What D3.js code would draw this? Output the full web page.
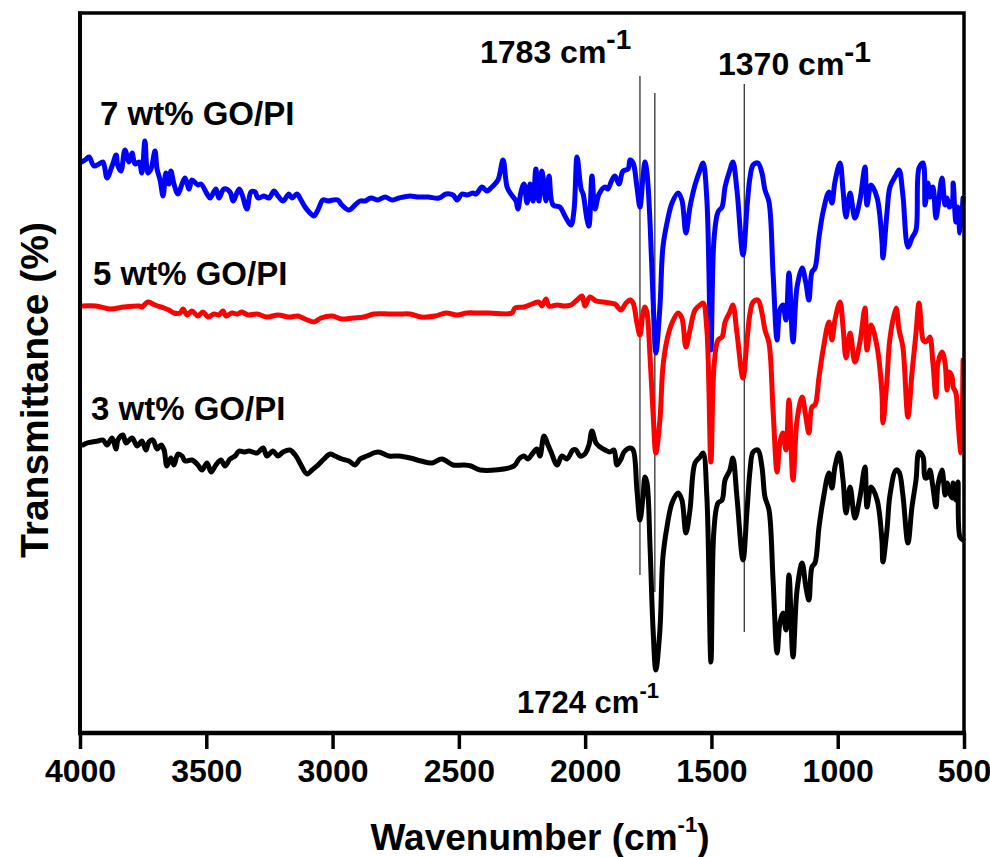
<!DOCTYPE html>
<html>
<head>
<meta charset="utf-8">
<script src="https://cdn.jsdelivr.net/npm/d3@7/dist/d3.min.js"></script>
<style>
  html, body { margin: 0; padding: 0; background: #fff; }
  svg { display: block; }
  text { font-family: "Liberation Sans", Arial, sans-serif; font-weight: bold; fill: #000; }
</style>
</head>
<body>
<svg id="chart" width="990" height="857"></svg>
<script>
// ---------------- DATA ----------------
const xTicks = [4000, 3500, 3000, 2500, 2000, 1500, 1000, 500];
const seriesNames = ["7 wt% GO/PI", "5 wt% GO/PI", "3 wt% GO/PI"];
const seriesColors = ["#0000ff", "#ff0000", "#000000"];

// 7 wt% GO/PI (blue)
const wn7 = [3994,3980,3964,3945,3925,3909,3893,3873,3857,3850,3838,3822,3806,3794,3782,3766,3755,3743,3731,3719,3703,3695,3683,3671,3660,3648,3640,3628,3612,3596,3584,3568,3557,3533,3521,3497,3485,3462,3450,3430,3406,3394,3370,3359,3339,3323,3307,3295,3271,3252,3232,3216,3196,3173,3161,3141,3125,3109,3093,3074,3058,3038,3018,2998,2979,2963,2935,2911,2891,2872,2848,2820,2792,2765,2737,2693,2666,2622,2579,2551,2523,2507,2488,2468,2444,2432,2408,2389,2369,2345,2325,2309,2294,2274,2266,2254,2242,2230,2218,2206,2195,2183,2171,2155,2143,2127,2100,2080,2056,2044,2032,2016,2008,1993,1985,1973,1961,1945,1921,1910,1894,1882,1866,1850,1830,
  1822,1810,1795,1783,1771,1763,1755,1743,1731,1720,1704,1692,1676,1656,1632,1617,1601,1585,1565,1545,1533,1518,1502,1490,1474,1458,1446,1427,1415,1399,1375,1359,1347,1335,1316,1300,1288,1272,1256,1240,1229,1217,1205,1193,1177,1161,1141,1126,1114,1102,1090,1074,1058,1035,1023,1011,991,979,967,951,932,912,892,884,868,844,825,821,805,793,769,757,742,722,706,690,678,662,654,643,635,623,611,603,587,575,567,559,547,543,532,524,516,504];
const t7 = [57.1,57.3,57.6,56.7,56.9,57.1,55.5,56.7,57.8,56.7,56.2,58.3,57.1,58.0,56.9,57.1,56.0,59.2,56.0,56.4,58.2,56.4,55.3,53.7,56.0,54.9,56.2,54.9,53.9,54.9,55.5,54.4,55.3,54.8,54.9,53.9,53.5,54.4,53.5,54.4,54.1,53.2,54.4,53.9,52.4,54.1,54.1,53.5,53.7,53.5,54.2,53.7,53.2,53.9,53.5,53.9,53.3,52.6,52.1,51.7,52.3,53.3,53.2,53.3,53.3,52.8,52.3,52.8,53.2,53.2,53.5,53.3,53.6,53.3,53.5,53.7,53.6,53.6,53.5,53.9,53.8,53.3,53.9,53.8,54.0,53.9,54.6,54.2,54.6,55.3,57.3,54.6,53.9,53.2,52.4,54.1,54.9,53.0,54.9,53.2,56.4,53.2,56.2,53.2,55.7,52.8,52.6,51.7,50.8,52.3,57.6,54.4,53.9,51.4,50.7,55.7,52.4,53.9,54.6,54.4,55.3,55.7,54.9,56.2,56.4,
  57.3,57.0,54.6,52.6,55.6,57.1,56.0,51.0,43.3,38.0,42.6,48.6,51.0,53.0,54.0,53.3,50.0,52.6,54.8,56.3,57.0,53.3,38.3,49.3,52.1,52.6,54.6,56.3,57.1,54.3,47.8,52.6,55.6,56.8,57.0,56.0,54.3,53.1,46.0,39.3,42.3,42.8,41.3,46.0,39.1,44.6,46.5,45.0,43.3,46.1,46.5,49.6,52.1,54.1,53.0,55.1,57.0,54.3,51.6,54.0,51.5,53.3,56.6,52.8,54.8,53.5,49.3,47.5,52.0,54.6,55.8,56.3,53.8,48.6,49.5,50.3,56.5,57.0,52.8,55.0,53.6,54.6,51.5,52.6,55.5,52.8,53.5,52.6,53.0,55.0,51.1,52.6,50.0,53.5];

// 5 wt% GO/PI (red)
const wn5 = [3994,3937,3881,3826,3766,3755,3731,3703,3667,3648,3628,3604,3592,3576,3557,3533,3513,3493,3469,3450,3434,3422,3398,3378,3359,3335,3299,3260,3216,3173,3137,3109,3074,3046,3002,2963,2919,2876,2836,2777,2737,2693,2650,2594,2551,2507,2468,2424,2381,2290,2278,2242,2210,2183,2171,2155,2143,2111,2084,2056,2032,2012,2001,1981,1957,1929,1902,1882,1858,1838,
  1822,1810,1795,1783,1771,1763,1755,1743,1731,1720,1704,1692,1676,1656,1632,1617,1601,1585,1565,1545,1533,1518,1502,1490,1474,1458,1446,1427,1415,1399,1375,1359,1347,1335,1316,1300,1288,1272,1256,1240,1229,1217,1205,1193,1177,1161,1141,1126,1114,1102,1090,1074,1058,1035,1023,1011,991,979,967,951,932,912,892,884,868,844,825,821,805,793,769,757,742,722,706,690,678,662,654,643,635,623,611,603,587,575,567,559,547,543,532,524,512,504];
const t5 = [42.7,42.7,42.4,42.6,42.7,42.6,43.1,42.8,42.5,42.3,42.0,42.0,42.4,41.8,42.2,41.7,42.1,41.6,41.9,41.8,42.2,41.7,42.0,41.9,42.1,41.8,41.9,41.6,41.8,41.6,41.7,41.4,41.1,41.5,41.7,41.4,41.5,41.6,41.9,41.9,41.9,41.9,41.6,41.7,42.0,41.8,42.0,42.0,42.0,42.0,42.5,42.6,42.9,43.1,42.7,43.4,42.7,42.8,42.7,42.8,43.3,43.7,42.7,43.6,43.2,43.1,43.0,42.9,42.3,43.0,
  43.3,43.0,41.0,39.8,42.0,42.6,42.0,37.6,32.0,28.0,31.3,36.6,39.3,41.0,42.0,41.5,38.6,40.3,42.3,42.8,43.0,40.3,27.1,36.6,39.3,39.6,41.1,42.1,42.8,40.0,35.5,39.3,42.0,43.1,43.3,42.0,40.3,39.0,32.3,26.1,29.0,30.0,28.3,33.3,25.3,31.3,33.6,31.6,30.0,32.6,32.8,35.6,38.3,41.1,39.3,41.3,43.1,40.6,37.5,40.0,37.1,39.1,42.5,38.3,40.8,38.6,34.0,31.0,35.3,39.5,42.5,40.3,38.6,31.6,36.0,40.0,43.0,39.3,39.1,39.3,39.6,37.0,33.6,37.0,38.1,37.0,34.3,36.1,35.6,34.6,34.0,31.3,28.0,37.3];

// 3 wt% GO/PI (black)
const wn3 = [3988,3972,3952,3929,3909,3893,3873,3857,3850,3830,3818,3794,3774,3755,3739,3727,3711,3695,3679,3667,3656,3640,3628,3612,3596,3584,3557,3533,3517,3497,3481,3462,3442,3426,3406,3386,3370,3351,3331,3299,3275,3260,3236,3216,3196,3169,3145,3125,3101,3081,3062,3034,3010,2990,2963,2935,2911,2891,2864,2820,2777,2737,2693,2650,2606,2567,2523,2480,2452,2416,2282,2262,2242,2226,2210,2191,2179,2163,2147,2135,2111,2092,2072,2048,2036,2020,2001,1985,1973,1957,1941,1921,1902,1886,1874,1858,1846,
  1822,1810,1795,1783,1771,1763,1755,1743,1731,1720,1704,1692,1676,1656,1632,1617,1601,1585,1565,1545,1533,1518,1502,1490,1474,1458,1446,1427,1415,1399,1375,1359,1347,1335,1316,1300,1288,1272,1256,1240,1229,1217,1205,1193,1177,1161,1141,1126,1114,1102,1090,1074,1058,1035,1023,1011,995,979,967,951,932,912,892,884,868,844,825,821,805,793,769,757,742,722,706,690,678,662,654,643,635,623,611,603,587,575,567,559,547,543,532,524,516,504];
const t3 = [28.8,29.0,29.1,29.2,29.3,28.8,29.5,28.4,29.3,29.8,29.0,29.5,28.7,29.2,28.3,29.1,29.3,28.4,28.8,28.3,26.7,27.5,26.8,27.9,27.7,27.2,27.3,26.8,26.3,27.0,26.1,26.8,27.3,26.7,27.4,27.7,28.2,28.1,28.2,28.0,28.5,27.7,28.2,27.7,28.1,28.3,27.7,26.8,25.9,26.3,26.7,27.4,27.9,27.7,27.4,27.2,26.8,27.4,27.7,28.1,27.7,27.7,27.5,27.2,27.0,27.4,26.8,26.8,26.7,26.3,26.7,27.4,27.7,27.4,27.9,28.4,27.7,29.7,28.8,28.1,26.8,27.7,27.4,28.3,28.3,27.7,27.9,28.8,30.2,29.0,28.6,28.3,28.1,28.3,26.8,27.4,28.1,
  28.5,28.3,24.3,21.3,23.6,25.6,25.0,18.6,10.3,6.3,10.3,17.6,20.6,23.0,24.0,23.3,20.0,22.3,27.0,27.6,28.0,23.6,7.1,20.3,23.0,23.3,25.3,26.3,27.5,23.6,17.3,22.3,26.3,28.1,28.3,26.6,23.6,22.3,15.3,8.0,11.0,12.0,10.3,15.8,7.6,14.3,17.0,14.6,13.3,16.6,17.0,20.6,23.3,26.0,24.5,26.6,28.0,25.3,22.0,24.6,21.5,23.6,26.6,22.6,24.6,23.3,19.3,17.1,20.3,23.8,26.3,26.1,23.8,19.0,22.6,25.3,28.1,27.6,25.5,25.6,26.3,24.6,22.6,24.8,26.3,23.8,25.0,24.1,23.5,25.0,23.3,25.1,19.6,19.3];

// marker lines: wavenumber and vertical extent (a.u.)
const markWn = [1783, 1724, 1370];
const markTop = [65.7, 64.0, 64.9];
const markBottom = [15.8, 14.1, 10.1];

// ---------------- CHART ----------------
const svg = d3.select("#chart");
const pL = 80, pR = 964, pT = 13, pB = 733;

const x = d3.scaleLinear().domain([4000, 500]).range([pL, pR]);
const y = d3.scaleLinear().domain([0, 72]).range([pB, pT]);

const series = [
  { name: seriesNames[0], color: seriesColors[0], wn: wn7, t: t7 },
  { name: seriesNames[1], color: seriesColors[1], wn: wn5, t: t5 },
  { name: seriesNames[2], color: seriesColors[2], wn: wn3, t: t3 }
];

// marker lines
markWn.forEach((w, i) => {
  svg.append("line")
    .attr("x1", x(w)).attr("x2", x(w))
    .attr("y1", y(markTop[i])).attr("y2", y(markBottom[i]))
    .attr("stroke", "#222").attr("stroke-width", 1.2);
});

const line = d3.line()
  .x((d) => x(d[0]))
  .y((d) => y(d[1]))
  .curve(d3.curveCatmullRom.alpha(0.5));

series.forEach((s) => {
  const pts = s.wn.map((w, i) => [w, s.t[i]]);
  svg.append("path")
    .datum(pts)
    .attr("d", line)
    .attr("fill", "none")
    .attr("stroke", s.color)
    .attr("stroke-width", 5)
    .attr("stroke-linejoin", "round")
    .attr("stroke-linecap", "round");
});

// frame
svg.append("rect")
  .attr("x", pL).attr("y", pT)
  .attr("width", pR - pL).attr("height", pB - pT)
  .attr("fill", "none").attr("stroke", "#000").attr("stroke-width", 3.5);
svg.append("line").attr("x1", pL).attr("x2", pL).attr("y1", pT - 1.5).attr("y2", pB + 2)
  .attr("stroke", "#000").attr("stroke-width", 4);
svg.append("line").attr("x1", pL - 2).attr("x2", pR + 2).attr("y1", pB).attr("y2", pB)
  .attr("stroke", "#000").attr("stroke-width", 4.5);

// x axis
const xAxis = d3.axisBottom(x).tickValues(xTicks).tickSize(16).tickFormat(d3.format("d"));
const gx = svg.append("g").attr("transform", `translate(0,${pB})`).call(xAxis);
gx.select(".domain").remove();
gx.selectAll(".tick line").attr("stroke", "#000").attr("stroke-width", 3.5);
gx.selectAll(".tick text")
  .attr("y", 49).attr("dy", 0)
  .style("font-family", '"Liberation Sans", Arial, sans-serif')
  .style("font-weight", "bold")
  .style("font-size", "32px")
  .attr("fill", "#000");

// axis titles
const xt = svg.append("text").attr("x", 540).attr("y", 850)
  .attr("text-anchor", "middle").style("font-size", "37px");
xt.append("tspan").text("Wavenumber (cm");
xt.append("tspan").text("-1").style("font-size", "22px").attr("dy", -18);
xt.append("tspan").text(")").attr("dy", 18);

svg.append("text")
  .attr("transform", "translate(48,390) rotate(-90)")
  .attr("text-anchor", "middle")
  .style("font-size", "39px")
  .text("Transmittance (%)");

// series labels
const labelPos = [[100, 125], [93, 285], [91, 420]];
series.forEach((s, i) => {
  svg.append("text").attr("x", labelPos[i][0]).attr("y", labelPos[i][1])
    .style("font-size", "33px").text(s.name);
});

// peak annotations
function annot(xp, yp, txt, fs, supFs, supDy) {
  const t = svg.append("text").attr("x", xp).attr("y", yp).style("font-size", fs + "px");
  t.append("tspan").text(txt + " cm");
  t.append("tspan").text("-1").style("font-size", supFs + "px").attr("dy", supDy);
}
annot(480, 63, markWn[0], 32, 28, -14);
annot(718, 75, markWn[2], 32, 30, -13);
annot(517, 713, markWn[1], 31, 22, -15);
</script>
</body>
</html>
